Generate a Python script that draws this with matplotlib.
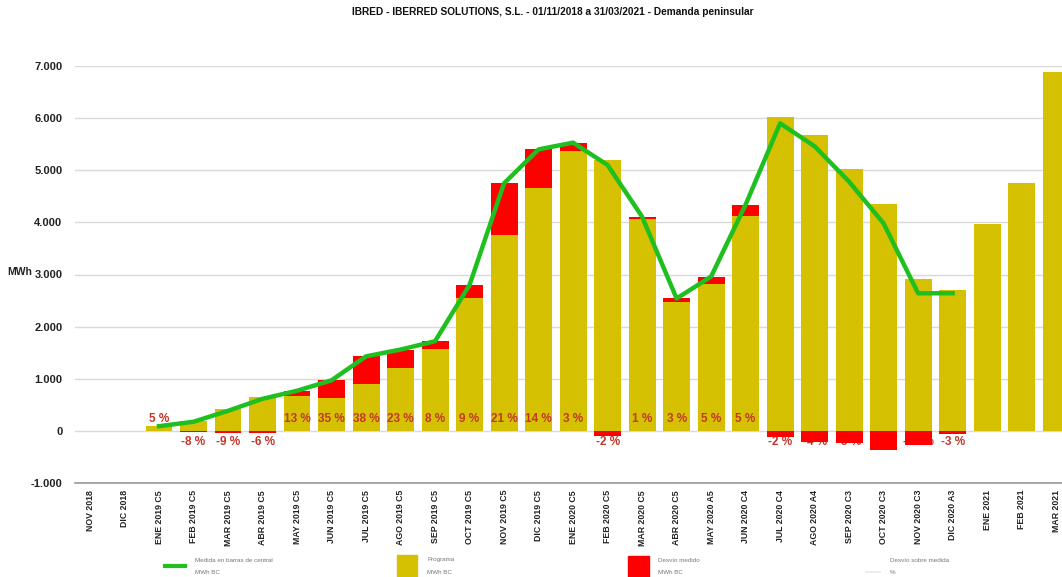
import numpy as np
import matplotlib
matplotlib.use('Agg')
import matplotlib.pyplot as plt
from matplotlib.lines import Line2D
from matplotlib.patches import Rectangle
from matplotlib.ticker import FuncFormatter

# --- datos ---
meses = ['NOV 2018', 'DIC 2018', 'ENE 2019 C5', 'FEB 2019 C5', 'MAR 2019 C5', 'ABR 2019 C5',
         'MAY 2019 C5', 'JUN 2019 C5', 'JUL 2019 C5', 'AGO 2019 C5', 'SEP 2019 C5', 'OCT 2019 C5',
         'NOV 2019 C5', 'DIC 2019 C5', 'ENE 2020 C5', 'FEB 2020 C5', 'MAR 2020 C5', 'ABR 2020 C5',
         'MAY 2020 A5', 'JUN 2020 C4', 'JUL 2020 C4', 'AGO 2020 A4', 'SEP 2020 C3', 'OCT 2020 C3',
         'NOV 2020 C3', 'DIC 2020 A3', 'ENE 2021', 'FEB 2021', 'MAR 2021']
programa = [0, 0, 85, 190, 420, 650, 670, 630, 890, 1200, 1580, 2550, 3760, 4650, 5365,
            5205, 4070, 2465, 2810, 4120, 6015, 5680, 5020, 4350, 2915, 2705, 3960, 4755, 6880]
medida = [np.nan, np.nan, 90, 175, 385, 615, 770, 970, 1430, 1560, 1720, 2800, 4750, 5400, 5530,
          5100, 4110, 2540, 2960, 4340, 5900, 5460, 4780, 3980, 2640, 2640, np.nan, np.nan, np.nan]
pct = ['', '', '5 %', '-8 %', '-9 %', '-6 %', '13 %', '35 %', '38 %', '23 %', '8 %', '9 %',
       '21 %', '14 %', '3 %', '-2 %', '1 %', '3 %', '5 %', '5 %', '-2 %', '-4 %', '-5 %', '-9 %',
       '-10 %', '-3 %', '', '', '']
yticks = [-1000, 0, 1000, 2000, 3000, 4000, 5000, 6000, 7000]

titulo = 'IBRED - IBERRED SOLUTIONS, S.L. - 01/11/2018 a 31/03/2021 - Demanda peninsular'

# --- colores ---
amarillo = '#d5c102'
rojo = '#ff0000'
verde = '#1fbf1f'
texto_pct = '#c3362a'

plt.rcParams['font.family'] = ['Liberation Sans', 'DejaVu Sans']

x = np.arange(len(meses))
prog = np.array(programa, dtype=float)
med = np.array(medida, dtype=float)
desvio = med - prog
pos = np.nan_to_num(np.where(desvio > 0, desvio, 0))
neg = np.nan_to_num(np.where(desvio < 0, desvio, 0))

fig = plt.figure(figsize=(10.62, 5.77), dpi=100)
fig.patch.set_facecolor('white')
ax = fig.add_axes([75 / 1062, 1 - 483 / 577, (1062 - 75) / 1062, (483 - 66) / 577])

w = 0.78
ax.bar(x, prog, width=w, color=amarillo, zorder=2)
ax.bar(x, pos, width=w, bottom=prog, color=rojo, zorder=4)
ax.bar(x, neg, width=w, color=rojo, zorder=4)
ax.plot(x, med, color=verde, linewidth=3.2, solid_joinstyle='round', zorder=5)

# etiquetas de desvío (%)
for xi, d, t in zip(x, desvio, pct):
    if not t:
        continue
    y = 230 if d > 0 else -210
    ax.text(xi, y, t, ha='center', va='center', fontsize=8.5, fontweight='bold',
            color=texto_pct, zorder=3)

ax.set_xlim(-0.435, 28.17)
ax.set_ylim(-1000, 7000)
ax.set_yticks(yticks)
ax.yaxis.set_major_formatter(FuncFormatter(lambda v, p: f'{int(v):,}'.replace(',', '.')))
ax.set_xticks(x)
ax.set_xticklabels(meses, rotation=90, fontweight='bold', fontsize=6.3)
ax.tick_params(axis='both', length=0, colors='#222222')
ax.tick_params(axis='y', pad=9, labelsize=8)
ax.tick_params(axis='x', pad=5)
for lab in ax.get_yticklabels():
    lab.set_fontweight('bold')

ax.grid(axis='y', color='#d9d9d9', linewidth=1, zorder=0)
ax.set_axisbelow(True)
for s in ['top', 'right', 'left']:
    ax.spines[s].set_visible(False)
ax.spines['bottom'].set_color('#9a9a9a')
ax.spines['bottom'].set_linewidth(1.2)

fig.text(7 / 1062, 1 - 272 / 577, 'MWh', fontsize=7.5, fontweight='bold', va='center', color='#222222')
fig.text(553 / 1062, 1 - 12 / 577, titulo, ha='center', va='center', fontsize=7.3,
         fontweight='bold', color='#111111')

# leyenda inferior
def fx(px):
    return px / 1062

def fy(py):
    return 1 - py / 577

fig.add_artist(Line2D([fx(165), fx(185)], [fy(566), fy(566)], color=verde, linewidth=3,
                      transform=fig.transFigure))
fig.add_artist(Rectangle((fx(397), fy(577)), fx(20), 22 / 577, color=amarillo,
                         transform=fig.transFigure))
fig.add_artist(Rectangle((fx(628), fy(577)), fx(21), 21 / 577, color=rojo,
                         transform=fig.transFigure))
fig.add_artist(Line2D([fx(866), fx(880)], [fy(572), fy(572)], color='#eeeeee', linewidth=1.5,
                      transform=fig.transFigure))

leyenda = [(195, 'Medida en barras de central', 'MWh BC'),
           (427, 'Programa', 'MWh BC'),
           (658, 'Desvío medido', 'MWh BC'),
           (890, 'Desvío sobre medida', '%')]
for px, l1, l2 in leyenda:
    fig.text(fx(px), fy(560), l1, fontsize=4.5, color='#777777', va='center')
    fig.text(fx(px), fy(573), l2, fontsize=4.5, color='#777777', va='center')

fig.savefig('out.png', dpi=100, facecolor='white')
